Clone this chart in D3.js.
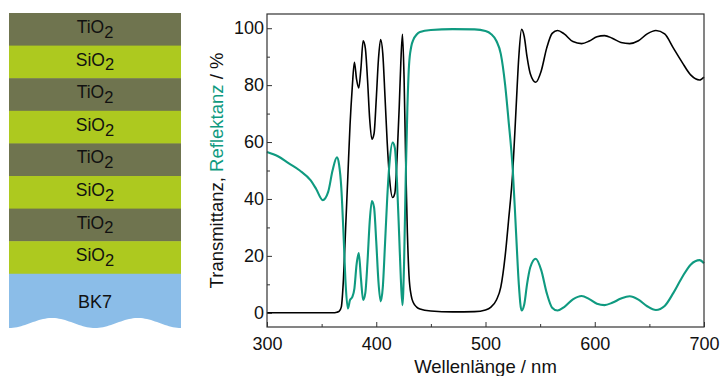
<!DOCTYPE html>
<html>
<head>
<meta charset="utf-8">
<script src="https://cdn.jsdelivr.net/npm/d3@7"></script>
<style>
  body { margin: 0; background: #fff; }
  svg text { font-family: "Liberation Sans", Arial, sans-serif; }
</style>
</head>
<body>
<div id="chart"></div>
<script>
// spectrum (wavelength in nm, values in %)
var wavelength = [300, 310, 320, 330, 340, 345, 351, 356, 360,
  364, 366, 368, 370, 372, 374, 376, 378, 380, 382,
  384, 386, 388, 390, 392, 394, 396, 398, 400, 402,
  404, 406, 408, 410, 412, 415, 417, 419, 421, 422.5,
  424, 425.5, 427, 428.5, 430, 432, 434, 437, 440, 450,
  470, 490, 500, 505, 510, 514, 518, 521, 525, 528,
  530.5, 533, 535.5, 538, 541, 546, 551, 556, 561, 566,
  572, 580, 588, 595, 602, 609, 616, 624, 632, 640,
  648, 656, 664, 672, 680, 688, 696, 700];

var transmittanz = [0, 0, 0, 0, 0, 0, 0, 0, 0,
  0.2, 0.5, 2, 12, 30, 48, 66, 79, 88, 82,
  79, 86, 95.6, 93, 82, 68, 61, 63, 75, 89,
  96, 91, 76, 60, 48, 40.5, 42, 54, 72, 88,
  97.9, 82, 52, 28, 13, 6, 3.5, 2, 1.3, 0.6,
  0.3, 0.4, 1, 2, 4.5, 9, 20, 32, 50, 72,
  90, 99.6, 97, 90, 84, 81, 85, 93, 98.2, 99.2,
  98, 95.3, 94.6, 95.5, 97, 97.4, 96.5, 95, 94.6, 95.6,
  98, 99.2, 98, 93, 88, 83.5, 81.8, 82.8];

var reflektanz = [56.5, 55, 52.5, 50, 46.5, 43.5, 39.6, 42.5, 50,
  54.6, 52, 44, 28, 10, 1.5, 4.5, 5.5, 8.5, 17,
  21, 12, 4.5, 7, 18, 32, 39.3, 37, 25, 11,
  4, 9, 24, 40, 52, 59.8, 58, 46, 27, 12,
  2.7, 18, 48, 72, 87, 93.5, 96, 97.8, 98.7, 99.4,
  99.7, 99.6, 99, 98, 95.5, 91, 80, 68, 50, 28,
  10, 0.8, 3, 10, 16, 19, 15, 7, 1.8, 0.8,
  2, 4.7, 5.9, 4.8, 3.2, 2.7, 3.5, 5, 5.8, 4.6,
  2.3, 1, 2.4, 7, 12.5, 17, 18.5, 17.4];

var xTicks = [300, 400, 500, 600, 700];
var xMinor = [350, 450, 550, 650];
var yTicks = [0, 20, 40, 60, 80, 100];
var yMinor = [10, 30, 50, 70, 90];

// layer stack, top to bottom
var layers = ['TiO', 'SiO', 'TiO', 'SiO', 'TiO', 'SiO', 'TiO', 'SiO'];
var substrate = 'BK7';

var teal = '#0f9a80';
var layerColor = { 'TiO': '#6f744f', 'SiO': '#adc91f' };

var svg = d3.select('#chart').append('svg')
    .attr('width', 722)
    .attr('height', 376);

// ---- layer stack on the left ----
var stackLeft = 9, stackRight = 181, stackTop = 13, layerH = 32.6;

var stack = svg.append('g');
stack.selectAll('rect')
    .data(layers)
    .enter()
    .append('rect')
    .attr('x', stackLeft)
    .attr('y', function (d, i) { return stackTop + i * layerH; })
    .attr('width', stackRight - stackLeft)
    .attr('height', layerH + 0.5)
    .style('fill', function (d) { return layerColor[d]; });

var labels = stack.selectAll('text.layer')
    .data(layers)
    .enter()
    .append('text')
    .attr('class', 'layer')
    .attr('x', (stackLeft + stackRight) / 2)
    .attr('y', function (d, i) { return stackTop + i * layerH + 20; })
    .attr('text-anchor', 'middle')
    .style('font-size', '17.5px')
    .style('fill', '#111');
labels.append('tspan').text(function (d) { return d; });
labels.append('tspan')
    .attr('dy', 4.7)
    .style('font-size', '16.5px')
    .text('2');

// substrate with wavy bottom edge
var subTop = stackTop + layers.length * layerH;
var waveX = d3.range(stackLeft, stackRight + 0.1, 2);
var wave = waveX.map(function (x) {
  return [x, 323 + 5 * Math.cos((x - stackLeft) / (stackRight - stackLeft) * 4 * Math.PI)];
});
var subPts = [[stackLeft, subTop], [stackRight, subTop]].concat(wave.slice().reverse());
stack.append('path')
    .attr('d', d3.line()(subPts) + 'Z')
    .style('fill', '#8bbde8');
stack.append('text')
    .attr('x', (stackLeft + stackRight) / 2)
    .attr('y', 308)
    .attr('text-anchor', 'middle')
    .style('font-size', '18px')
    .style('fill', '#111')
    .text(substrate);

// ---- spectrum plot ----
var plotLeft = 267, plotRight = 704, plotTop = 14, plotBottom = 327;

var x = d3.scaleLinear().domain([300, 700]).range([plotLeft, plotRight]);
var y = d3.scaleLinear().domain([-5, 105]).range([plotBottom, plotTop]);

var plot = svg.append('g');

// axes, ticks pointing inward
plot.append('g')
    .attr('transform', 'translate(0,' + plotBottom + ')')
    .call(d3.axisBottom(x).tickValues(xTicks).tickSize(-5).tickPadding(10));
plot.append('g')
    .attr('transform', 'translate(0,' + plotBottom + ')')
    .call(d3.axisBottom(x).tickValues(xMinor).tickSize(-3).tickFormat(''));
plot.append('g')
    .attr('transform', 'translate(' + plotLeft + ',0)')
    .call(d3.axisLeft(y).tickValues(yTicks).tickSize(-5).tickPadding(3));
plot.append('g')
    .attr('transform', 'translate(' + plotLeft + ',0)')
    .call(d3.axisLeft(y).tickValues(yMinor).tickSize(-3).tickFormat(''));

plot.selectAll('.domain').remove();
plot.selectAll('.tick line').style('stroke', '#333');
plot.selectAll('.tick text')
    .style('font-family', '"Liberation Sans", Arial, sans-serif')
    .style('font-size', '18px')
    .style('fill', '#111');

// lines
var specLine = d3.line()
    .x(function (d, i) { return x(wavelength[i]); })
    .y(function (d) { return y(d); })
    .curve(d3.curveMonotoneX);

plot.append('path')
    .datum(transmittanz)
    .attr('d', specLine)
    .style('fill', 'none')
    .style('stroke', '#000')
    .style('stroke-width', 1.6);

plot.append('path')
    .datum(reflektanz)
    .attr('d', specLine)
    .style('fill', 'none')
    .style('stroke', teal)
    .style('stroke-width', 2.1);

// frame
plot.append('rect')
    .attr('x', plotLeft)
    .attr('y', plotTop)
    .attr('width', plotRight - plotLeft)
    .attr('height', plotBottom - plotTop)
    .style('fill', 'none')
    .style('stroke', '#333')
    .style('stroke-width', 1.2);

// axis titles
svg.append('text')
    .attr('x', (plotLeft + plotRight) / 2)
    .attr('y', 373)
    .attr('text-anchor', 'middle')
    .style('font-size', '18.5px')
    .style('fill', '#111')
    .text('Wellenlänge / nm');

var yTitle = svg.append('text')
    .attr('transform', 'translate(223,' + (plotTop + plotBottom) / 2 + ') rotate(-90)')
    .attr('text-anchor', 'middle')
    .style('font-size', '18.5px')
    .style('fill', '#111');
yTitle.append('tspan').text('Transmittanz, ');
yTitle.append('tspan').style('fill', teal).text('Reflektanz');
yTitle.append('tspan').text(' / %');
</script>
</body>
</html>
